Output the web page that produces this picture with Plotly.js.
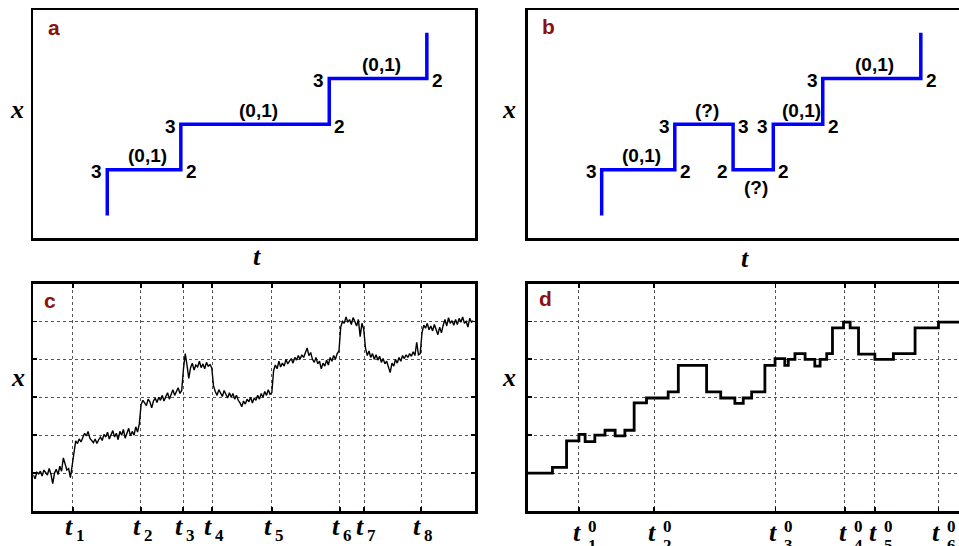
<!DOCTYPE html>
<html>
<head>
<meta charset="utf-8">
<script src="https://cdn.plot.ly/plotly-3.0.1.min.js"></script>
<style>
html,body{margin:0;padding:0;overflow:hidden;background:#fff;}
#chart{width:975px;height:546px;}
</style>
</head>
<body>
<div id="chart"></div>
<script>
// ---------- Panel a : idealised step path ----------
const aStepX = [16.75, 33.4, 67.0, 89.1, 89.1];
const aStepY = [10, 30, 50, 70, 90];
const aSegLabels   = ['(0,1)', '(0,1)', '(0,1)'];
const aLeftLabels  = ['3', '3', '3'];
const aRightLabels = ['2', '2', '2'];
const aSegSide     = ['above', 'above', 'above'];

// ---------- Panel b : path with a backward step ----------
const bStepX = [16.75, 33.3, 46.5, 55.6, 66.8, 89.0, 89.0];
const bStepY = [10, 30, 50, 30, 50, 70, 90];
const bSegLabels   = ['(0,1)', '(?)', '(?)', '(0,1)', '(0,1)'];
const bLeftLabels  = ['3', '3', '2', '3', '3'];
const bRightLabels = ['2', '3', '2', '2', '2'];
const bSegSide     = ['above', 'above', 'below', 'above', 'above'];

// ---------- Panel c : noisy trace (sampled every cStep time units) ----------
const cStep = 4;
const cTrace = [
  // before t1
  0.95,0.85,1.02,0.98,1.05,0.92,1.08,1.0,0.95,1.12,0.97,0.72,1.0,1.1,0.96,1.18,1.05,1.4,1.22,1.08,1.12,0.88,1.2,
  // t1 - t2
  1.55,1.85,1.78,1.9,1.82,1.95,2.05,1.98,2.1,1.92,1.85,1.8,1.9,1.78,1.88,1.95,1.86,2.02,1.95,2.08,1.9,2.0,
  2.12,1.95,2.05,1.88,2.1,2.0,2.15,1.92,2.05,2.18,1.98,2.1,2.0,2.22,2.08,2.3,
  // t2 - t3
  2.8,2.92,2.85,2.78,2.95,2.88,2.72,2.9,2.98,2.86,3.0,2.92,3.05,2.9,3.02,3.12,2.95,3.08,3.2,3.05,3.15,3.25,3.1,3.18,
  // t3 - t4
  3.75,4.15,3.85,3.5,3.78,3.9,3.72,3.85,3.8,3.95,3.78,3.88,3.75,3.92,3.82,3.86,3.78,
  // t4 - t5
  3.3,3.15,3.05,3.2,3.1,3.02,3.18,3.08,2.98,3.12,3.0,3.1,2.95,3.05,2.92,2.85,2.75,2.9,2.82,2.95,
  2.88,3.0,2.85,2.98,2.92,3.05,2.95,3.1,3.0,3.15,3.05,3.2,3.08,3.12,
  // t5 - t6
  3.7,3.85,3.75,3.95,3.8,3.9,3.82,4.0,3.88,3.95,4.02,3.9,4.05,3.98,4.1,4.0,4.12,4.05,4.2,4.3,
  4.1,4.18,4.0,3.92,4.05,3.88,3.95,3.75,3.9,3.82,3.98,3.85,4.05,3.95,4.1,4.0,4.15,4.22,
  // t6 - t7
  4.85,5.0,4.95,5.12,4.98,5.05,4.92,5.1,5.0,4.88,5.05,4.6,4.95,4.8,
  // t7 - t8
  4.3,4.1,4.22,4.05,4.15,4.0,4.12,3.98,4.08,3.92,4.02,3.88,3.95,3.8,3.65,3.9,
  3.82,4.0,3.9,4.05,3.95,4.1,4.02,4.12,4.05,4.15,4.08,4.2,4.1,4.45,4.12,4.15,
  // after t8
  4.7,4.9,4.82,4.95,4.78,4.88,4.75,4.92,4.8,4.65,4.85,4.7,4.9,5.05,4.88,
  5.1,4.95,5.02,4.9,5.05,4.92,5.08,4.98,5.12,4.95,5.0,4.85,5.08,4.98,5.02
];
const cTicks = [89, 243, 339, 405, 540, 694, 749, 878];
const cTickSubs = ['1','2','3','4','5','6','7','8'];
const yLevels = [1, 2, 3, 4, 5];

// ---------- Panel d : fitted step trace ----------
const dStepX = [0, 56, 88, 116, 130, 152, 175, 198, 220, 241, 269, 318, 341, 405, 437, 469, 488, 507,
                537, 560, 582, 590, 605, 628, 650, 662, 677, 690, 715, 730, 749, 786, 828, 877, 930, 1000];
const dStepY = [1.0, 1.15, 1.85, 2.02, 1.83, 2.0, 2.13, 1.98, 2.13, 2.85, 2.98, 3.14, 3.84, 3.14, 2.98, 2.84, 2.98, 3.14,
                3.84, 4.02, 3.84, 4.0, 4.15, 4.0, 3.82, 4.0, 4.15, 4.83, 4.98, 4.83, 4.14, 4.0, 4.15, 4.83, 4.98, 4.98];
const dTicks = [116, 286, 561, 718, 786, 930];
const dTickSubs = ['1','2','3','4','5','6'];

const panelLetters = ['a', 'b', 'c', 'd'];

// ---------- build ----------
const W = 975, H = 546;
const cX = cTrace.map((_, i) => i * cStep);

const traces = [
  {x: aStepX, y: aStepY, xaxis: 'x', yaxis: 'y', mode: 'lines', line: {color: '#0000ff', width: 3.5, shape: 'vh'}, hoverinfo: 'skip'},
  {x: bStepX, y: bStepY, xaxis: 'x2', yaxis: 'y2', mode: 'lines', line: {color: '#0000ff', width: 3.5, shape: 'vh'}, hoverinfo: 'skip'},
  {x: cX, y: cTrace, xaxis: 'x3', yaxis: 'y3', mode: 'lines', line: {color: '#000', width: 1.4}, hoverinfo: 'skip'},
  {x: dStepX, y: dStepY, xaxis: 'x4', yaxis: 'y4', mode: 'lines', line: {color: '#000', width: 2.8, shape: 'hv'}, hoverinfo: 'skip'}
];

const frame = {showline: true, linecolor: '#000', linewidth: 2.5, mirror: true, zeroline: false,
               showgrid: false, ticks: '', showticklabels: false, fixedrange: true};
const gridded = {showgrid: true, gridcolor: '#555', griddash: 'dot', gridwidth: 1,
                 ticks: 'inside', ticklen: 4, tickwidth: 1.8, tickcolor: '#000', mirror: 'allticks'};

const colL = [33.3 / W, 475 / W], colR = [527.7 / W, 969.4 / W];
const rowT = [1 - 238.3 / H, 1 - 10 / H], rowB = [1 - 511 / H, 1 - 283.5 / H];

const layout = {
  width: W, height: H, margin: {l: 0, r: 0, t: 0, b: 0},
  paper_bgcolor: '#fff', plot_bgcolor: '#fff', showlegend: false,
  xaxis:  Object.assign({}, frame, {domain: colL, range: [0, 100], anchor: 'y'}),
  yaxis:  Object.assign({}, frame, {domain: rowT, range: [0, 100], anchor: 'x'}),
  xaxis2: Object.assign({}, frame, {domain: colR, range: [0, 100], anchor: 'y2'}),
  yaxis2: Object.assign({}, frame, {domain: rowT, range: [0, 100], anchor: 'x2'}),
  xaxis3: Object.assign({}, frame, gridded, {domain: colL, range: [0, 1000], anchor: 'y3', tickvals: cTicks}),
  yaxis3: Object.assign({}, frame, gridded, {domain: rowB, range: [0, 6], anchor: 'x3', tickvals: yLevels}),
  xaxis4: Object.assign({}, frame, gridded, {domain: colR, range: [0, 1000], anchor: 'y4', tickvals: dTicks}),
  yaxis4: Object.assign({}, frame, gridded, {domain: rowB, range: [0, 6], anchor: 'x4', tickvals: yLevels}),
  annotations: []
};

const digitFont = {family: 'Liberation Sans, Arial, sans-serif', size: 19, color: '#000', weight: 'bold'};
function segAnnots(xs, ys, segs, lefts, rights, sides, xr, yr) {
  for (let k = 0; k < segs.length; k++) {
    const x0 = xs[k], x1 = xs[k + 1], y = ys[k + 1];
    layout.annotations.push({x: x0, y: y, xref: xr, yref: yr, text: lefts[k], showarrow: false,
      xanchor: 'right', yanchor: 'middle', xshift: -3, yshift: -2, font: digitFont});
    layout.annotations.push({x: x1, y: y, xref: xr, yref: yr, text: rights[k], showarrow: false,
      xanchor: 'left', yanchor: 'middle', xshift: 3, yshift: -2, font: digitFont});
    layout.annotations.push({x: (x0 + x1) / 2, y: y, xref: xr, yref: yr, text: segs[k], showarrow: false,
      xanchor: 'center', yanchor: 'middle', xshift: 3, yshift: sides[k] === 'above' ? 14 : -18, font: digitFont});
  }
}
segAnnots(aStepX, aStepY, aSegLabels, aLeftLabels, aRightLabels, aSegSide, 'x', 'y');
segAnnots(bStepX, bStepY, bSegLabels, bLeftLabels, bRightLabels, bSegSide, 'x2', 'y2');

// panel letters
const letterFont = {family: 'Liberation Sans, Arial, sans-serif', size: 21, color: '#8b1010', weight: 'bold'};
const axPairs = [['x', 'y'], ['x2', 'y2'], ['x3', 'y3'], ['x4', 'y4']];
const letterPos = [[0.028, 0.925], [0.028, 0.928], [0.02, 0.924], [0.02, 0.935]];
panelLetters.forEach((l, i) => {
  layout.annotations.push({xref: axPairs[i][0] + ' domain', yref: axPairs[i][1] + ' domain',
    x: letterPos[i][0], y: letterPos[i][1], text: l, showarrow: false, xanchor: 'left', yanchor: 'middle', font: letterFont});
});

// axis labels x (vertical) and t (horizontal)
const mathFont = {family: 'Liberation Serif, serif', size: 26, color: '#000', weight: 'bold', style: 'italic'};
const xLabPos = [[-0.038, 0.565], [-0.042, 0.565], [-0.034, 0.585], [-0.042, 0.585]];
axPairs.forEach((p, i) => {
  layout.annotations.push({xref: p[0] + ' domain', yref: p[1] + ' domain', x: xLabPos[i][0], y: xLabPos[i][1],
    text: 'x', showarrow: false, xanchor: 'center', yanchor: 'middle', font: mathFont});
});
[['x', 'y', 0.506, -0.081], ['x2', 'y2', 0.492, -0.088]].forEach(p => {
  layout.annotations.push({xref: p[0] + ' domain', yref: p[1] + ' domain', x: p[2], y: p[3],
    text: 't', showarrow: false, xanchor: 'center', yanchor: 'middle', font: mathFont});
});

// panel c tick labels: t with subscript index
const tFont = {family: 'Liberation Serif, serif', size: 26, color: '#000', weight: 'bold', style: 'italic'};
const subFont = {family: 'Liberation Serif, serif', size: 17, color: '#000', weight: 'bold'};
cTicks.forEach((tv, i) => {
  layout.annotations.push({xref: 'x3', yref: 'y3 domain', x: tv, y: -0.068, text: 't', showarrow: false,
    xanchor: 'right', yanchor: 'middle', xshift: 2, font: tFont});
  layout.annotations.push({xref: 'x3', yref: 'y3 domain', x: tv, y: -0.106, text: cTickSubs[i], showarrow: false,
    xanchor: 'left', yanchor: 'middle', xshift: 1, font: subFont});
});

// panel d tick labels: t with stacked superscript 0 and subscript index
dTicks.forEach((tv, i) => {
  layout.annotations.push({xref: 'x4', yref: 'y4 domain', x: tv, y: -0.094, text: 't', showarrow: false,
    xanchor: 'center', yanchor: 'middle', xshift: -2, font: tFont});
  layout.annotations.push({xref: 'x4', yref: 'y4 domain', x: tv, y: -0.07, text: '0', showarrow: false,
    xanchor: 'left', yanchor: 'middle', xshift: 7, font: subFont});
  layout.annotations.push({xref: 'x4', yref: 'y4 domain', x: tv, y: -0.15, text: dTickSubs[i], showarrow: false,
    xanchor: 'left', yanchor: 'middle', xshift: 7, font: subFont});
});

Plotly.newPlot('chart', traces, layout, {staticPlot: true, displayModeBar: false});
</script>
</body>
</html>
